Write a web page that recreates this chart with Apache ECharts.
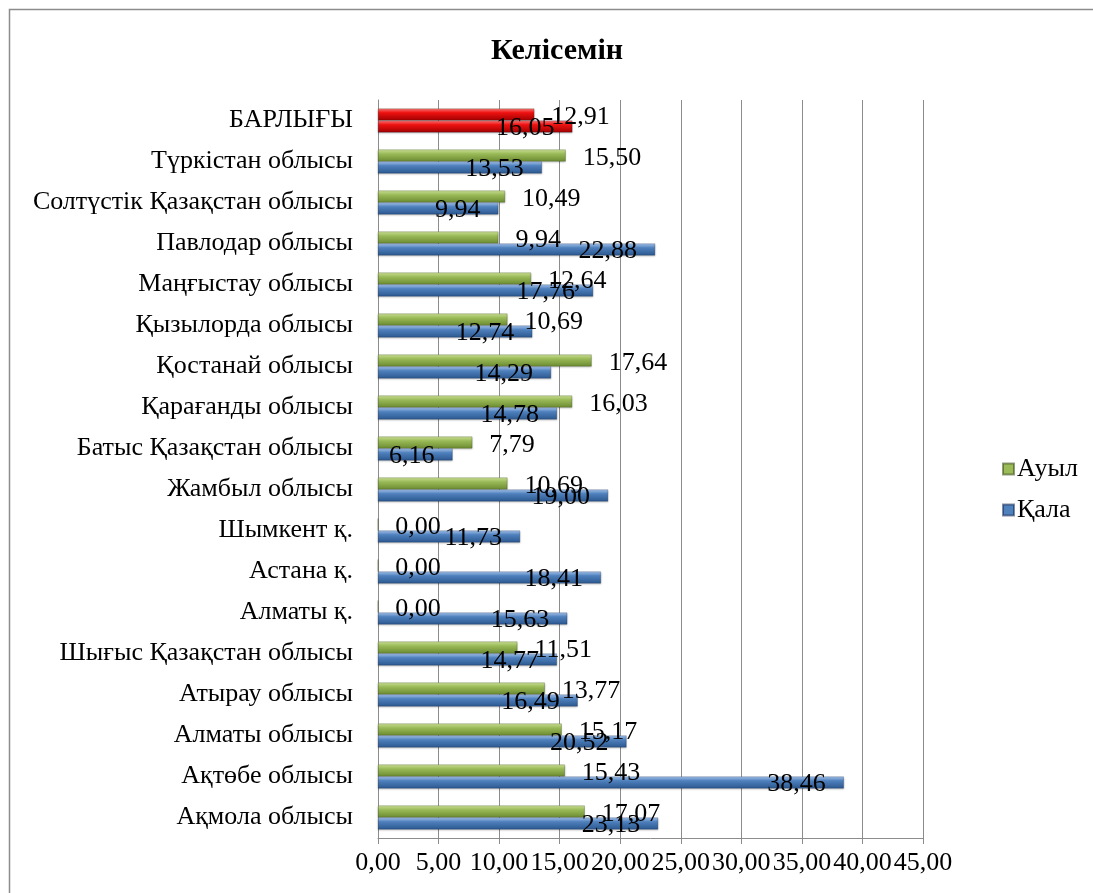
<!DOCTYPE html>
<html>
<head>
<meta charset="utf-8">
<script src="https://cdn.jsdelivr.net/npm/echarts@6/dist/echarts.min.js"></script>
<style>
html,body{margin:0;padding:0;background:#fff;overflow:hidden;}
#c{width:1093px;height:893px;}
</style>
</head>
<body>
<div id="c"></div>
<script>
const categories = ["Ақмола облысы","Ақтөбе облысы","Алматы облысы","Атырау облысы","Шығыс Қазақстан облысы","Алматы қ.","Астана қ.","Шымкент қ.","Жамбыл облысы","Батыс Қазақстан облысы","Қарағанды облысы","Қостанай облысы","Қызылорда облысы","Маңғыстау облысы","Павлодар облысы","Солтүстік Қазақстан облысы","Түркістан облысы","БАРЛЫҒЫ"];
const auyl = [17.07,15.43,15.17,13.77,11.51,0.00,0.00,0.00,10.69,7.79,16.03,17.64,10.69,12.64,9.94,10.49,15.50,12.91];
const qala = [23.13,38.46,20.52,16.49,14.77,15.63,18.41,11.73,19.00,6.16,14.78,14.29,12.74,17.76,22.88,9.94,13.53,16.05];
const totalLabel = "БАРЛЫҒЫ";

const font = "'Liberation Serif','Times New Roman',serif";
function grad(top, mid, bot){
  return new echarts.graphic.LinearGradient(0,0,0,1,[
    {offset:0,color:top},{offset:0.35,color:mid},{offset:1,color:bot}]);
}
const greenC = grad('#cfe59a','#9bbb59','#6a8a30');
const blueC = grad('#a9c8f0','#4f81bd','#2b578f');
const redC = grad('#ff7a7a','#ee1111','#a00000');
function fmt(v){return v.toFixed(2).replace('.',',');}

const auylData = auyl.map((v,i)=>({value:v,itemStyle:{color:categories[i]===totalLabel?redC:greenC}}));
const qalaData = qala.map((v,i)=>({value:v,itemStyle:{color:categories[i]===totalLabel?redC:blueC}}));

const chart = echarts.init(document.getElementById('c'));
chart.setOption({
  animation:false,
  backgroundColor:'#fff',
  graphic:[
    {type:'rect',shape:{x:9.5,y:9.5,width:1200,height:1000},style:{fill:'none',stroke:'#8c8c8c',lineWidth:1.5},silent:true},
    {type:'text',x:557,y:51,silent:true,style:{text:'Келісемін',textAlign:'center',textVerticalAlign:'middle',
      font:"bold 30px 'Liberation Serif','Times New Roman',serif",fill:'#000'}}
  ],
  legend:{orient:'vertical',left:997,top:451,itemGap:15,itemWidth:11,itemHeight:11,
    data:[{name:'Ауыл',icon:'rect',itemStyle:{color:'#9bbb59'}},{name:'Қала',icon:'rect',itemStyle:{color:'#4f81bd'}}],
    textStyle:{fontFamily:font,fontSize:26,color:'#000',padding:[0,0,0,-2]}},
  grid:{left:378,right:170,top:100,bottom:55,containLabel:false},
  xAxis:{type:'value',min:0,max:45,interval:5,
    axisLine:{show:true,lineStyle:{color:'#8c8c8c',width:1}},
    axisTick:{show:true,length:6,lineStyle:{color:'#8c8c8c'}},
    splitLine:{show:true,lineStyle:{color:'#8c8c8c',width:1}},
    axisLabel:{fontFamily:font,fontSize:26,color:'#000',margin:12,formatter:v=>fmt(v)}},
  yAxis:{type:'category',data:categories,
    axisLine:{show:true,lineStyle:{color:'#8c8c8c',width:1}},
    axisTick:{show:false},
    axisLabel:{fontFamily:font,fontSize:26,color:'#000',margin:25,interval:0}},
  series:[
    {name:'Ауыл',type:'bar',data:auylData,barWidth:12,barGap:'0%',
      itemStyle:{borderColor:'rgba(40,60,10,0.5)',borderWidth:0.5,shadowColor:'rgba(0,0,0,0.25)',shadowBlur:2,shadowOffsetY:1},
      label:{show:true,position:'right',distance:17,offset:[0,3],formatter:p=>fmt(p.value),
        fontFamily:font,fontSize:26,color:'#000'}},
    {name:'Қала',type:'bar',data:qalaData,barWidth:12,barGap:'0%',
      itemStyle:{borderColor:'rgba(10,30,70,0.5)',borderWidth:0.5,shadowColor:'rgba(0,0,0,0.25)',shadowBlur:2,shadowOffsetY:1},
      label:{show:true,position:'insideRight',distance:18,offset:[0,2],formatter:p=>fmt(p.value),
        fontFamily:font,fontSize:26,color:'#000'}}
  ]
});
</script>
</body>
</html>
